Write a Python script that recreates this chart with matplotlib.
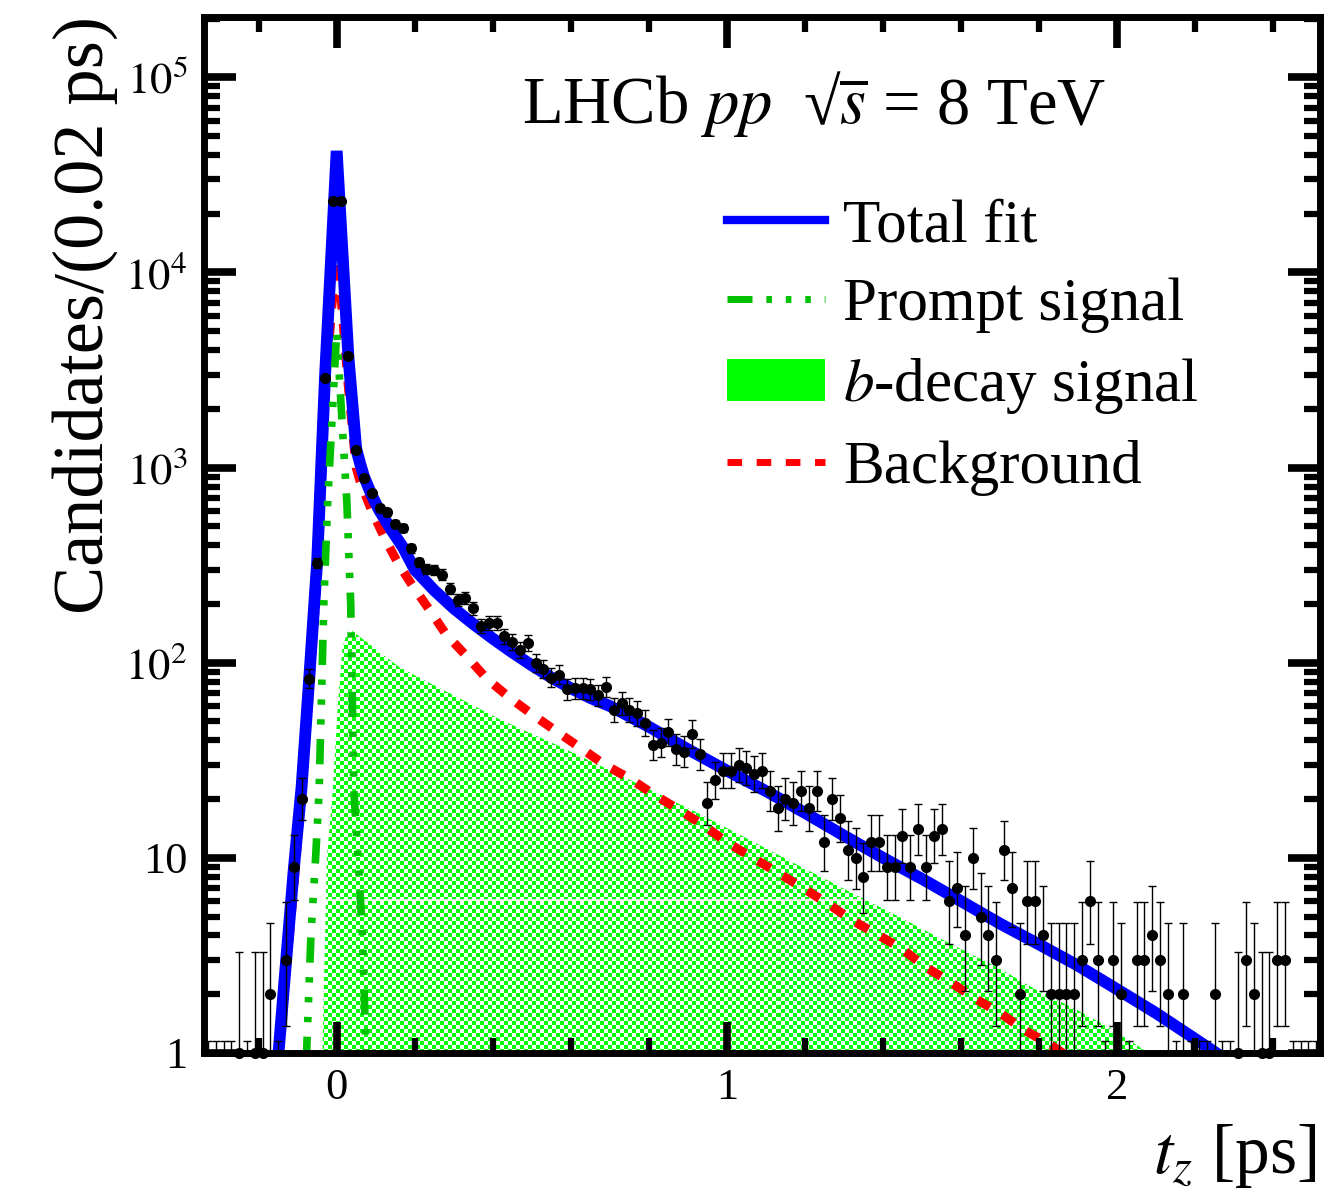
import numpy as np
import matplotlib
matplotlib.use("Agg")
import matplotlib.pyplot as plt
from matplotlib.lines import Line2D
from matplotlib.patches import Patch
from matplotlib.ticker import FixedLocator, FixedFormatter, MultipleLocator, NullFormatter

plt.rcParams['font.family'] = ['Liberation Serif', 'DejaVu Serif']
plt.rcParams['mathtext.fontset'] = 'stix'

# binning: 0.02 ps bins, first centre at -0.33 ps
BIN_W = 0.02
FIRST_CENTRE = -0.33
counts = [
    0, 0, 0, 0, 1, 0, 1, 1, 2, 0,
    3, 9, 20, 83, 324, 2870, 23300, 23300, 3730, 1230,
    880, 740, 620, 590, 515, 490, 385, 327, 302, 298,
    283, 240, 210, 215, 190, 155, 160, 160, 137, 128,
    116, 126, 100, 93, 84, 87, 73, 74, 74, 73,
    68, 75, 57, 62, 57, 55, 49, 38, 39, 44,
    36, 35, 43, 34, 19, 25, 28, 28, 30, 29,
    27, 28, 22, 18, 20, 19, 22, 18, 22, 12,
    20, 16, 11, 10, 8, 12, 12, 9, 9, 13,
    9, 14, 9, 13, 14, 6, 7, 4, 10, 5,
    4, 3, 11, 7, 2, 6, 6, 4, 2, 2,
    2, 2, 3, 6, 3, 0, 3, 2, 0, 3,
    3, 4, 3, 2, 0, 2, 0, 0, 0, 2,
    0, 0, 1, 3, 2, 1, 1, 3, 3, 0,
    0, 0, 0,
]

# fit components
total_t = [-0.15, -0.13, -0.11, -0.09, -0.07, -0.05, -0.03, 0.0, 0.03, 0.05, 0.06, 0.07,
           0.09, 0.11, 0.14, 0.17, 0.20, 0.25, 0.30, 0.35, 0.40, 0.45, 0.50, 0.55, 0.60,
           0.65, 0.70, 0.80, 0.90, 1.00, 1.10, 1.20, 1.30, 1.40, 1.50, 1.60, 1.70, 1.80,
           1.90, 2.00, 2.10, 2.20, 2.26]
total_n = [0.95, 2.9, 8.7, 23, 85, 330, 2900, 42000, 3700, 1250, 1050, 900,
           720, 600, 480, 390, 300, 235, 190, 158, 133, 113, 97, 84, 74,
           66, 60, 47, 36, 28, 22, 17, 13, 10, 7.8, 6.0, 4.6, 3.6,
           2.8, 2.12, 1.6, 1.18, 0.98]

prompt_t = [-0.078, -0.066, -0.054, -0.045, -0.033, -0.023, 0.0, 0.026, 0.036, 0.044,
            0.055, 0.066, 0.076]
prompt_n = [0.9, 4, 10, 22, 200, 670, 5000, 670, 200, 22, 10, 4, 0.9]

bdec_t = [-0.037, -0.025, -0.01, 0.003, 0.015, 0.031, 0.16, 0.30, 0.42, 0.55, 0.67, 0.80,
          0.93, 1.06, 1.19, 1.315, 1.44, 1.57, 1.70, 1.785, 1.90, 2.00, 2.09]
bdec_n = [0.9, 10, 22, 60, 120, 150, 95, 68, 51, 39, 30, 22.5,
          16.8, 12.3, 9.0, 6.7, 5.0, 3.65, 2.7, 2.15, 1.65, 1.28, 0.97]

bkg_t = [-0.15, -0.11, -0.07, -0.05, -0.03, 0.0, 0.03, 0.05, 0.06, 0.09, 0.123, 0.157,
         0.195, 0.24, 0.28, 0.333, 0.384, 0.444, 0.503, 0.567, 0.63, 0.687, 0.751, 0.815,
         0.88, 0.94, 1.0, 1.067, 1.13, 1.195, 1.26, 1.32, 1.39, 1.45, 1.51, 1.577, 1.636,
         1.70, 1.765, 1.83, 1.87]
bkg_n = [0.95, 7, 70, 280, 2400, 14000, 2600, 1000, 850, 600, 435, 324,
         247, 184, 140, 108, 83, 66, 54, 44, 36, 30, 25.5, 21,
         17.5, 14.7, 12, 10, 8.4, 7.0, 5.8, 4.8, 4.0, 3.4, 2.75, 2.28, 1.9,
         1.6, 1.3, 1.1, 0.97]

y_ticks = [1, 10, 100, 1000, 1e4, 1e5]
y_tick_labels = ['1', '10', r'$10^{2}$', r'$10^{3}$', r'$10^{4}$', r'$10^{5}$']
x_ticks = [0, 1, 2]
x_tick_labels = ['0', '1', '2']
legend_labels = ['Total fit', 'Prompt signal', r'$b$-decay signal', 'Background']

BLUE = '#0000ff'
GREEN_LINE = '#00c000'
GREEN_FILL = '#00ff00'
RED = '#ff0000'
PROMPT_DASH = (0, (3.3, 1.9, 0.7, 1.9, 0.7, 1.9, 0.7, 1.9))


def poisson_interval(n, cl=0.6827):
    # central Garwood interval, one-sided upper limit for empty bins
    if n == 0:
        return 0.0, -np.log(1.0 - cl)
    alpha = 0.5 * (1.0 - cl)
    logfact = np.concatenate([[0.0], np.cumsum(np.log(np.arange(1, n + 1)))])

    def cdf(k, mu):
        ks = np.arange(k + 1)
        return np.exp(ks * np.log(mu) - mu - logfact[:k + 1]).sum()

    def solve(k, target):
        lo, hi = 1e-9, n + 10 * np.sqrt(n) + 10
        for _ in range(80):
            mid = 0.5 * (lo + hi)
            if cdf(k, mid) > target:
                lo = mid
            else:
                hi = mid
        return 0.5 * (lo + hi)

    return solve(n - 1, 1.0 - alpha), solve(n, alpha)


counts = np.array(counts)
centres = FIRST_CENTRE + BIN_W * np.arange(len(counts))
lims = np.array([poisson_interval(int(c)) for c in counts])
err_lo = counts - lims[:, 0]
err_hi = lims[:, 1] - counts

fig = plt.figure(figsize=(13.43, 11.91), dpi=100)
ax = fig.add_axes([0.1519, 0.1159, 0.8310, 0.8702])
ax.set_yscale('log')
ax.set_xlim(-0.34, 2.52)
ax.set_ylim(1, 2.05e5)

# b-decay component: green/white checker clipped to the component shape
fb = ax.fill_between(bdec_t, bdec_n, 0.5, facecolor='none', edgecolor='none', zorder=1)
ncol, nrow = 279, 259
cells = np.add.outer(np.arange(nrow), np.arange(ncol)) % 2
checker = np.ones((nrow, ncol, 3))
checker[cells == 0] = (0.0, 1.0, 0.0)
im = ax.imshow(checker, extent=(0, 1, 0, 1), transform=ax.transAxes, aspect='auto',
               interpolation='nearest', zorder=1)
im.set_clip_path(fb.get_paths()[0], ax.transData)
seam, = ax.plot([-0.34, 2.52], [6.1, 6.1], color='white', lw=1.2, zorder=1.1)
seam.set_clip_path(fb.get_paths()[0], ax.transData)

ax.plot(bkg_t, bkg_n, color=RED, lw=6.5, linestyle=(0, (1.6, 1.6)), zorder=2)
ax.plot(total_t, total_n, color=BLUE, lw=8.5, solid_joinstyle='miter', zorder=3)
ax.plot(prompt_t, prompt_n, color=GREEN_LINE, lw=5.5, linestyle=PROMPT_DASH, zorder=4)

ax.errorbar(centres, counts, yerr=[err_lo, err_hi], fmt='none', ecolor='black',
            elinewidth=1.0, capsize=3, capthick=1.0, zorder=5)
filled = counts > 0
ax.plot(centres[filled], counts[filled], 'o', color='black', ms=7, clip_on=False, zorder=6)

for sp in ax.spines.values():
    sp.set_linewidth(5)
    sp.set_zorder(10)
ax.xaxis.set_zorder(10)
ax.yaxis.set_zorder(10)

ax.xaxis.set_major_locator(FixedLocator(x_ticks))
ax.xaxis.set_major_formatter(FixedFormatter(x_tick_labels))
ax.xaxis.set_minor_locator(MultipleLocator(0.2))
ax.yaxis.set_major_locator(FixedLocator(y_ticks))
ax.yaxis.set_major_formatter(FixedFormatter(y_tick_labels))
minor_y = [m * 10 ** d for d in range(0, 6) for m in range(2, 10)]
ax.yaxis.set_minor_locator(FixedLocator(minor_y))
ax.yaxis.set_minor_formatter(NullFormatter())

ax.tick_params(which='both', direction='in', top=True, right=True, labelsize=32,
               color='black')
ax.tick_params(axis='x', which='major', length=22, width=5.5, pad=11)
ax.tick_params(axis='x', which='minor', length=11, width=4.5)
ax.tick_params(axis='y', which='major', length=23, width=5.5, pad=12)
ax.tick_params(axis='y', which='minor', length=11.5, width=4.5)

ax.set_ylabel('Candidates/(0.02 ps)', fontsize=52, ha='right')
ax.yaxis.set_label_coords(-0.077, 1.0)
ax.text(0.9973, -0.1158, r'$t_z$ [ps]', transform=ax.transAxes, fontsize=50,
        ha='right', va='baseline')
ax.text(0.285, 0.897, r'LHCb $pp$', transform=ax.transAxes,
        fontsize=48, ha='left', va='baseline')
ax.text(0.537, 0.897, r'√$\overline{s}$ = 8 TeV', transform=ax.transAxes,
        fontsize=48, ha='left', va='baseline')

# legend keys drawn slimmer than the curves themselves
handles = [
    Line2D([], [], color=BLUE, lw=6),
    Line2D([], [], color=GREEN_LINE, lw=5, linestyle=(0, (3.6, 2.0, 0.8, 2.0, 0.8, 2.0, 0.8, 2.0))),
    Patch(facecolor=GREEN_FILL, edgecolor='none'),
    Line2D([], [], color=RED, lw=5, linestyle=(0, (2.1, 2.1))),
]
ax.legend(handles, legend_labels, loc='upper left',
          bbox_to_anchor=(727 / 1343, 1 - 199 / 1191), bbox_transform=fig.transFigure,
          frameon=False, fontsize=44, handlelength=1.6, handletextpad=0.3,
          labelspacing=0.38, borderpad=0, borderaxespad=0, handleheight=0.67)

fig.savefig('out.png', dpi=100)
